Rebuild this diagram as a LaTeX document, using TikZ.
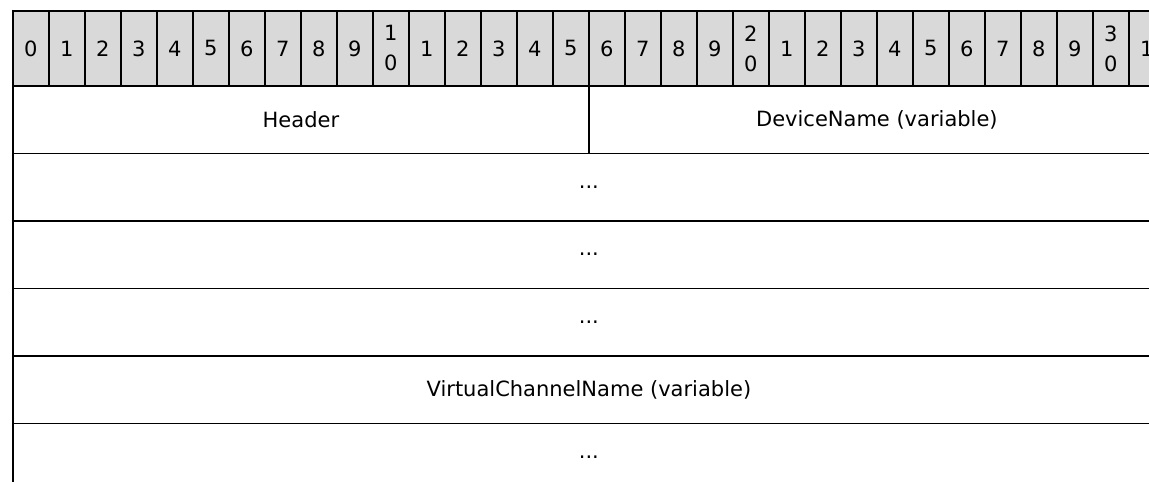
\documentclass[tikz,border=0pt]{standalone}
\usepackage{fontspec}
\setmainfont{DejaVu Sans}
\begin{document}
\begin{tikzpicture}[x=1pt, y=-1pt,
                    bitbox/.style = {draw, line width=1.8pt, fill=gray!30, minimum width=36pt, minimum height=75pt,
                                     inner sep=0pt, anchor=north west, align=center, font=\fontsize{21}{30}\selectfont},
                    field/.style = {draw, line width=1.8pt, minimum height=67.5pt, inner sep=0pt,
                                    anchor=north west, font=\fontsize{21}{25}\selectfont}]
                    \clip (0,0) rectangle (1149,482);
                    \fill[white] (0,0) rectangle (1149,482);

                    % bit numbers
                    \foreach \i in {0,...,31} {
                        \pgfmathtruncatemacro\d{mod(\i,10)}
                        \pgfmathtruncatemacro\t{div(\i,10)}
                        \ifnum\i>9 \ifnum\d=0 \edef\lbl{\t\noexpand\\0}\else\edef\lbl{\d}\fi\else\edef\lbl{\d}\fi
                        \node [bitbox] (b\i) at ({12+36*\i},10) {\lbl};
                    }

                    \node [field, minimum width=576pt] (header) at (12,85) {Header};
                    \node [field, minimum width=576pt] (devname) at (588,85) {DeviceName (variable)};
                    \node [field, minimum width=1152pt] (dots1) at (12,152.5) {...};
                    \node [field, minimum width=1152pt] (dots2) at (12,220) {...};
                    \node [field, minimum width=1152pt] (dots3) at (12,287.5) {...};
                    \node [field, minimum width=1152pt] (vcname) at (12,355) {VirtualChannelName (variable)};
                    \node [field, minimum width=1152pt] (dots4) at (12,422.5) {...};
                \end{tikzpicture}
\end{document}
